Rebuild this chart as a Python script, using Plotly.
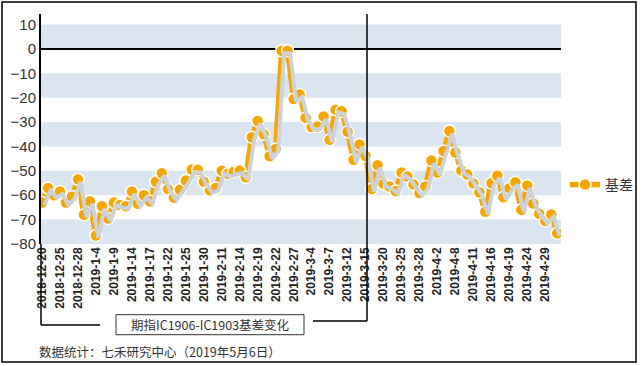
import plotly.graph_objects as go

dates = [
    "2018-12-20", "2018-12-21", "2018-12-24", "2018-12-25", "2018-12-26", "2018-12-27", "2018-12-28",
    "2019-1-2", "2019-1-3", "2019-1-4", "2019-1-7", "2019-1-8", "2019-1-9", "2019-1-10", "2019-1-11",
    "2019-1-14", "2019-1-15", "2019-1-16", "2019-1-17", "2019-1-18", "2019-1-21", "2019-1-22",
    "2019-1-23", "2019-1-24", "2019-1-25", "2019-1-28", "2019-1-29", "2019-1-30", "2019-1-31", "2019-2-1",
    "2019-2-11", "2019-2-12", "2019-2-13", "2019-2-14", "2019-2-15", "2019-2-18", "2019-2-19",
    "2019-2-20", "2019-2-21", "2019-2-22", "2019-2-25", "2019-2-26", "2019-2-27", "2019-2-28", "2019-3-1",
    "2019-3-4", "2019-3-5", "2019-3-6", "2019-3-7", "2019-3-8", "2019-3-11", "2019-3-12", "2019-3-13",
    "2019-3-14", "2019-3-15", "2019-3-18", "2019-3-19", "2019-3-20", "2019-3-21", "2019-3-22",
    "2019-3-25", "2019-3-26", "2019-3-27", "2019-3-28", "2019-3-29", "2019-4-1", "2019-4-2", "2019-4-3",
    "2019-4-4", "2019-4-8", "2019-4-9", "2019-4-10", "2019-4-11", "2019-4-12", "2019-4-15", "2019-4-16",
    "2019-4-17", "2019-4-18", "2019-4-19", "2019-4-22", "2019-4-23", "2019-4-24", "2019-4-25",
    "2019-4-26", "2019-4-29", "2019-4-30", "2019-5-6",
]

basis = [
    -63, -57, -60, -58.5, -63, -60.5, -53.5, -68, -62.5, -76.5,
    -64.5, -69.5, -63, -64, -64.5, -58.5, -63.5, -60, -62.5, -54.5,
    -51, -57.5, -61, -57.8, -54, -49.5, -49.6, -54.5, -58, -57,
    -50, -51.2, -50.4, -49.9, -52.6, -36.2, -29.6, -35, -44, -41,
    -0.8, -0.8, -20.6, -18.7, -28.3, -32, -31.8, -27.7, -37.3, -25,
    -25.6, -34, -45.5, -39.2, -43.9, -57.5, -47.7, -55.3, -56.4, -58.3,
    -50.7, -52.3, -55.6, -59.1, -56.4, -45.8, -50.7, -41.9, -33.7, -42.5,
    -49.9, -51.5, -55.2, -58.8, -66.8, -55, -52, -60.8, -57.1, -54.7,
    -66, -56, -63.4, -67.6, -70.6, -67.9, -75.6,
]

tick_labels = [
    "2018-12-20", "2018-12-25", "2018-12-28", "2019-1-4", "2019-1-9", "2019-1-14", "2019-1-17",
    "2019-1-22", "2019-1-25", "2019-1-30", "2019-2-11", "2019-2-14", "2019-2-19", "2019-2-22",
    "2019-2-27", "2019-3-4", "2019-3-7", "2019-3-12", "2019-3-15", "2019-3-20", "2019-3-25",
    "2019-3-28", "2019-4-2", "2019-4-8", "2019-4-11", "2019-4-16", "2019-4-19", "2019-4-24", "2019-4-29",
]

y_ticks = [10, 0, -10, -20, -30, -40, -50, -60, -70, -80]
band_ranges = [(0, 10), (-20, -10), (-40, -30), (-60, -50), (-80, -70)]

series_name = "基差"
box_title = "期指IC1906-IC1903基差变化"
source_note = "数据统计：七禾研究中心（2019年5月6日）"

ORANGE = "#F5A700"
BAND = "#DAE5F0"
SHADOW = "#CDD2D8"
FONT = "Arial, Liberation Sans, Noto Sans CJK SC, sans-serif"
CJK = "Noto Sans CJK SC, sans-serif"

W, H = 642, 366
L, R, T, B = 41, 81, 14, 122
PW, PH = W - L - R, H - T - B


def px(x):
    return (x - L) / PW


def py(y):
    return (H - B - y) / PH


xr = [-0.17, 86.63]
yr = [-80, 14.3]
ux = PW / (xr[1] - xr[0])
uy = PH / (yr[1] - yr[0])
SHX, SHY = 2.5, 2.5

fig = go.Figure()

# shadow
fig.add_trace(go.Scatter(
    x=dates, y=basis, mode="lines", xaxis="x2", yaxis="y2",
    line=dict(color=SHADOW, width=4), showlegend=False, hoverinfo="skip",
))
fig.add_trace(go.Scatter(
    x=dates, y=basis, mode="lines+markers", name=series_name,
    line=dict(color=ORANGE, width=5.5),
    marker=dict(color=ORANGE, size=12, line=dict(color="white", width=1.5)),
))

shapes = []
for lo, hi in band_ranges:
    shapes.append(dict(type="rect", xref="paper", yref="y", x0=0, x1=1, y0=lo, y1=hi,
                       fillcolor=BAND, line=dict(width=0), layer="below"))

# outer border
shapes.append(dict(type="rect", xref="paper", yref="paper",
                   x0=px(2), x1=px(636), y0=py(362), y1=py(2),
                   line=dict(color="black", width=1.5), fillcolor="rgba(0,0,0,0)"))
# left bracket
shapes.append(dict(type="line", xref="paper", yref="paper", x0=0, x1=0, y0=0, y1=py(325),
                   line=dict(color="black", width=1.5)))
shapes.append(dict(type="line", xref="paper", yref="paper", x0=0, x1=px(100), y0=py(325), y1=py(325),
                   line=dict(color="black", width=1.5)))
# title box
shapes.append(dict(type="rect", xref="paper", yref="paper",
                   x0=px(116), x1=px(304), y0=py(334.7), y1=py(314.7),
                   line=dict(color="#333333", width=1), fillcolor="white"))
# right bracket
shapes.append(dict(type="line", xref="paper", yref="paper", x0=px(313), x1=px(367), y0=py(321), y1=py(321),
                   line=dict(color="black", width=1.5)))
shapes.append(dict(type="line", xref="paper", yref="paper", x0=px(367), x1=px(367), y0=py(321), y1=1,
                   line=dict(color="black", width=1.5)))

annotations = [
    dict(text=box_title, xref="paper", yref="paper", x=px(210), y=py(324.7),
         xanchor="center", yanchor="middle", showarrow=False,
         font=dict(family=CJK, size=12.5, color="#333333")),
    dict(text=source_note, xref="paper", yref="paper", x=px(37), y=py(351),
         xanchor="left", yanchor="middle", showarrow=False,
         font=dict(family=CJK, size=12.5, color="#333333")),
]

fig.update_layout(
    width=W, height=H,
    margin=dict(l=L, r=R, t=T, b=B, pad=0, autoexpand=False),
    paper_bgcolor="white", plot_bgcolor="white",
    showlegend=True,
    legend=dict(x=px(565), y=py(185), xanchor="left", yanchor="middle",
                font=dict(family=CJK, size=14, color="#333333"),
                bgcolor="rgba(0,0,0,0)"),
    xaxis=dict(type="category", categoryorder="array", categoryarray=dates,
               range=xr, tickmode="array", tickvals=tick_labels, ticktext=tick_labels,
               tickangle=-90, showgrid=False, zeroline=False, showline=False, ticks="",
               automargin=False,
               tickfont=dict(family=FONT, size=12, color="#222222", weight="bold")),
    xaxis2=dict(type="category", categoryorder="array", categoryarray=dates,
                overlaying="x", visible=False,
                range=[xr[0] - SHX / ux, xr[1] - SHX / ux]),
    yaxis=dict(range=yr, tickmode="array", tickvals=y_ticks, showgrid=False,
               zeroline=True, zerolinecolor="black", zerolinewidth=1.5,
               showline=True, linecolor="black", linewidth=2, ticks="",
               automargin=False,
               tickfont=dict(family=FONT, size=15, color="#333333")),
    yaxis2=dict(overlaying="y", visible=False,
                range=[yr[0] + SHY / uy, yr[1] + SHY / uy]),
    shapes=shapes, annotations=annotations,
)

fig.write_html("out.html", config={"displayModeBar": False},
               post_script="document.body.style.margin='0px';document.body.style.overflow='hidden';")
